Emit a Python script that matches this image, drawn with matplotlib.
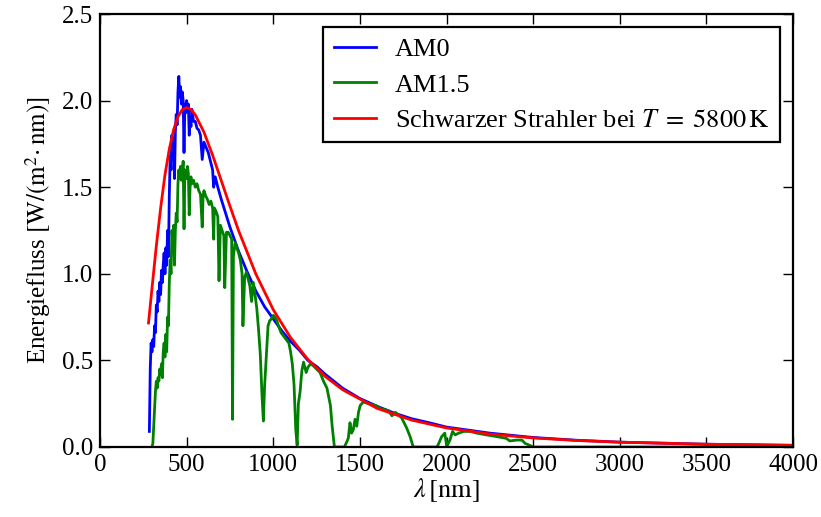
import matplotlib
matplotlib.use("Agg")
import matplotlib.pyplot as plt
from matplotlib.ticker import FormatStrFormatter

plt.rcParams["font.family"] = ["Liberation Serif", "DejaVu Serif"]
plt.rcParams["mathtext.fontset"] = "stix"
plt.rcParams["font.size"] = 18

# AM0 extraterrestrial spectrum, W/(m^2 nm)
am0_nm = [285, 290, 295, 300, 305, 310, 315, 320, 325, 330, 335, 340, 345, 350,
          355, 360, 365, 370, 375, 380, 385, 390, 395, 400, 405, 410, 415, 420,
          425, 430, 435, 440, 445, 450, 455, 460, 465, 470, 475, 480, 485, 490,
          495, 500, 505, 510, 515, 520, 525, 530, 540, 550, 560, 570, 580, 590,
          600, 625, 650, 656, 665, 680, 700, 725, 750, 775, 800, 850, 900, 950,
          1000, 1050, 1100, 1150, 1200, 1250, 1300, 1400, 1500, 1600, 1700,
          1800, 1900, 2000, 2250, 2500, 2750, 3000, 3500, 4000]
am0_val = [0.09, 0.45, 0.60, 0.55, 0.62, 0.58, 0.70, 0.66, 0.82, 0.78, 0.90,
           0.84, 0.95, 0.88, 1.02, 0.95, 1.05, 1.12, 1.00, 1.15, 1.05, 1.25,
           1.10, 1.45, 1.68, 1.60, 1.80, 1.72, 1.78, 1.55, 1.82, 1.92, 1.86,
           2.05, 2.14, 2.02, 2.08, 1.98, 2.05, 2.00, 1.70, 1.98, 1.93, 2.00,
           1.95, 1.98, 1.80, 1.90, 1.85, 1.95, 1.88, 1.88, 1.84, 1.83, 1.80,
           1.66, 1.76, 1.70, 1.60, 1.50, 1.56, 1.50, 1.43, 1.35, 1.27, 1.20,
           1.13, 1.01, 0.90, 0.81, 0.74, 0.67, 0.61, 0.56, 0.50, 0.465, 0.42,
           0.34, 0.28, 0.235, 0.195, 0.163, 0.14, 0.115, 0.08, 0.055, 0.039,
           0.028, 0.016, 0.0095]

# AM1.5 ground-level spectrum, W/(m^2 nm)
am15_nm = [300, 305, 310, 315, 320, 325, 330, 335, 340, 345, 350, 355, 360,
           365, 370, 375, 380, 385, 390, 395, 400, 405, 410, 415, 420, 425,
           430, 435, 440, 445, 450, 455, 460, 465, 470, 475, 480, 485, 490,
           495, 500, 505, 510, 515, 520, 525, 530, 540, 550, 560, 570, 580,
           590, 595, 600, 610, 620, 630, 640, 650, 656, 660, 670, 680, 687,
           695, 705, 715, 720, 730, 740, 750, 760, 765, 770, 780, 790, 800,
           810, 820, 825, 835, 845, 855, 865, 875, 885, 895, 905, 915, 925,
           935, 943, 950, 960, 970, 980, 990, 1000, 1010, 1020, 1030, 1045,
           1060, 1075, 1090, 1100, 1110, 1120, 1130, 1138, 1145, 1155, 1165,
           1175, 1190, 1200, 1215, 1230, 1250, 1270, 1290, 1310, 1330, 1340,
           1353, 1410, 1420, 1433, 1443, 1452, 1462, 1472, 1482, 1492, 1502,
           1520, 1550, 1590, 1625, 1665, 1685, 1705, 1740, 1770, 1790, 1808,
           1945, 1955, 1972, 1990, 2002, 2010, 2020, 2035, 2050, 2070, 2100,
           2140, 2175, 2230, 2290, 2345, 2365, 2405, 2435, 2455, 2480, 2500,
           3000, 3500, 4000]
am15_val = [0.0, 0.02, 0.12, 0.22, 0.32, 0.38, 0.34, 0.40, 0.38, 0.45, 0.42,
            0.48, 0.40, 0.55, 0.60, 0.52, 0.65, 0.55, 0.75, 0.70, 0.95, 1.08,
            1.00, 1.25, 1.18, 1.28, 1.05, 1.25, 1.35, 1.30, 1.52, 1.60, 1.55,
            1.62, 1.54, 1.58, 1.65, 1.26, 1.60, 1.58, 1.55, 1.62, 1.58, 1.34,
            1.50, 1.56, 1.52, 1.54, 1.50, 1.52, 1.48, 1.46, 1.27, 1.45, 1.48,
            1.45, 1.43, 1.40, 1.42, 1.38, 1.20, 1.38, 1.36, 1.33, 0.96, 1.28,
            1.25, 1.22, 0.92, 1.24, 1.24, 1.22, 1.20, 0.16, 1.10, 1.18, 1.15,
            1.12, 1.08, 1.00, 0.70, 0.98, 1.01, 0.97, 0.93, 0.84, 0.95, 0.88,
            0.80, 0.68, 0.54, 0.30, 0.15, 0.35, 0.52, 0.70, 0.73, 0.74, 0.76,
            0.75, 0.73, 0.70, 0.66, 0.64, 0.62, 0.60, 0.55, 0.48, 0.36, 0.10,
            0.01, 0.25, 0.32, 0.44, 0.49, 0.43, 0.46, 0.48, 0.47, 0.45, 0.43,
            0.38, 0.34, 0.24, 0.12, 0.0, 0.0, 0.02, 0.05, 0.14, 0.08, 0.10,
            0.16, 0.12, 0.20, 0.24, 0.26, 0.25, 0.24, 0.22, 0.21, 0.18, 0.20,
            0.17, 0.11, 0.06, 0.0, 0.0, 0.02, 0.06, 0.08, 0.0, 0.02, 0.04,
            0.09, 0.07, 0.08, 0.09, 0.09, 0.08, 0.07, 0.06, 0.05, 0.035, 0.04,
            0.04, 0.02, 0.01, 0.0, 0.0, 0.0, 0.0]

# black body curve, T = 5800 K, scaled to solar distance
bb_nm = [280, 300, 325, 350, 375, 400, 425, 450, 475, 500, 525, 550, 600,
         650, 700, 750, 800, 900, 1000, 1100, 1200, 1300, 1400, 1600, 1800,
         2000, 2250, 2500, 2750, 3000, 3500, 4000]
bb_val = [0.716, 0.916, 1.16, 1.38, 1.571, 1.72, 1.832, 1.907, 1.948, 1.96,
          1.949, 1.918, 1.818, 1.685, 1.538, 1.391, 1.249, 0.998, 0.793,
          0.632, 0.505, 0.407, 0.331, 0.223, 0.155, 0.110, 0.0749, 0.0524,
          0.0377, 0.0278, 0.016, 0.0099]

fig = plt.figure(figsize=(8.21, 5.17), dpi=100)
ax = fig.add_axes([0.1218, 0.1354, 0.8441, 0.8375])

ax.plot(am0_nm, am0_val, color="b", lw=2, label="AM0")
ax.plot(am15_nm, am15_val, color="g", lw=2, label="AM1.5")
ax.plot(bb_nm, bb_val, color="r", lw=2,
        label=r"Schwarzer Strahler bei $T\;=\;5800\,\mathrm{K}$")

ax.set_xlim(0, 4000)
ax.set_ylim(0, 2.5)
ax.set_xticks(range(0, 4001, 500))
ax.set_yticks([0.0, 0.5, 1.0, 1.5, 2.0, 2.5])
ax.yaxis.set_major_formatter(FormatStrFormatter("%.1f"))
ax.tick_params(direction="in", top=True, right=True, length=7, width=1,
               labelsize=18, pad=5)
for s in ax.spines.values():
    s.set_linewidth(1.6)

ax.set_xlabel(r"$\lambda\,[\mathrm{nm}]$", fontsize=19, labelpad=0)
ax.set_ylabel(r"Energiefluss $[\mathrm{W}/(\mathrm{m}^2\!\cdot\mathrm{nm})]$",
              fontsize=18, labelpad=6)

leg = ax.legend(loc="upper right", fontsize=19, fancybox=False,
                framealpha=1, edgecolor="k", handlelength=1.6,
                handletextpad=0.7, labelspacing=0.45, borderaxespad=0.5)
leg.get_frame().set_linewidth(1.6)

fig.savefig("out.png", dpi=100)
